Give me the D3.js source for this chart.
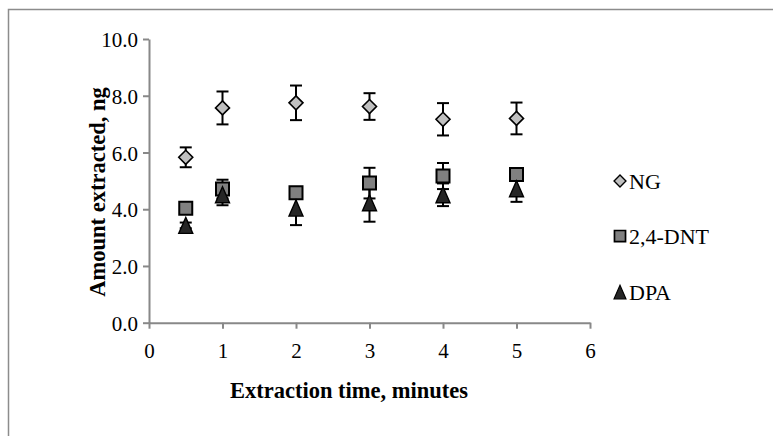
<!DOCTYPE html>
<html>
<head>
<meta charset="utf-8">
<script src="https://cdn.jsdelivr.net/npm/d3@7/dist/d3.min.js"></script>
<style>
  html, body { margin: 0; padding: 0; background: #fff; }
  svg { display: block; }
  text { font-family: "Liberation Serif", "Times New Roman", serif; fill: #000; }
</style>
</head>
<body>
<svg id="chart" width="773" height="436"></svg>
<script>
// Extraction time (minutes)
const times = [0.5, 1, 2, 3, 4, 5];

// Amount extracted (ng) with standard deviations
const ngValues  = [5.83, 7.57, 7.75, 7.62, 7.17, 7.20];
const ngErrors  = [0.35, 0.58, 0.61, 0.47, 0.57, 0.56];
const dntValues = [4.03, 4.71, 4.58, 4.92, 5.17, 5.22];
const dntErrors = [0.12, 0.33, 0.15, 0.54, 0.46, 0.15];
const dpaValues = [3.43, 4.51, 4.04, 4.23, 4.51, 4.72];
const dpaErrors = [0.10, 0.37, 0.60, 0.67, 0.40, 0.46];

const seriesNames = ["NG", "2,4-DNT", "DPA"];
const xTicks = [0, 1, 2, 3, 4, 5, 6];
const yTicks = [0, 2, 4, 6, 8, 10];

const series = [
  { name: seriesNames[0], values: ngValues,  errors: ngErrors,  shape: "diamond",  fill: "#c0c0c0" },
  { name: seriesNames[1], values: dntValues, errors: dntErrors, shape: "square",   fill: "#808080" },
  { name: seriesNames[2], values: dpaValues, errors: dpaErrors, shape: "triangle", fill: "#262626" }
];

const svg = d3.select("#chart");
const axisColor = "#888888";

// chart frame
svg.append("rect")
  .attr("x", 8.5).attr("y", 9.5)
  .attr("width", 800).attr("height", 500)
  .attr("fill", "none").attr("stroke", "#8c8c8c").attr("stroke-width", 1.5);

const x = d3.scaleLinear().domain([0, 6]).range([149, 590]);
const y = d3.scaleLinear().domain([0, 10]).range([322.7, 39]);

// marker outlines
const shapes = {
  diamond:  "M0,-7L7,0L0,7L-7,0Z",
  square:   "M-6.5,-6.5H6.5V6.5H-6.5Z",
  triangle: "M0,-8L7,8L-7,8Z"
};
const strokeW = { diamond: 1.6, square: 2, triangle: 1.4 };

// x axis
const xAxis = svg.append("g")
  .attr("transform", `translate(0,${y(0)})`)
  .call(d3.axisBottom(x).tickValues(xTicks).tickSize(6).tickSizeOuter(0).tickFormat(d3.format("d")));
xAxis.select(".domain").attr("stroke", axisColor).attr("stroke-width", 2);
xAxis.selectAll(".tick line").attr("stroke", axisColor).attr("stroke-width", 2);
xAxis.selectAll(".tick text")
  .attr("y", 35).attr("dy", 0)
  .style("font-family", "Liberation Serif").style("font-size", "21px").attr("fill", "#000");

// y axis
const yAxis = svg.append("g")
  .attr("transform", `translate(${x(0)},0)`)
  .call(d3.axisLeft(y).tickValues(yTicks).tickSize(6).tickSizeOuter(0).tickFormat(d3.format(".1f")));
yAxis.select(".domain").attr("stroke", axisColor).attr("stroke-width", 2);
yAxis.selectAll(".tick line").attr("stroke", axisColor).attr("stroke-width", 2);
yAxis.selectAll(".tick text")
  .attr("x", -11).attr("dy", "0.36em")
  .style("font-family", "Liberation Serif").style("font-size", "21px").attr("fill", "#000");

// axis titles
svg.append("text")
  .attr("x", 349).attr("y", 398)
  .attr("text-anchor", "middle")
  .style("font-size", "22.5px").style("font-weight", "bold")
  .text("Extraction time, minutes");

svg.append("text")
  .attr("transform", "translate(105,192) rotate(-90)")
  .attr("text-anchor", "middle")
  .style("font-size", "22.5px").style("font-weight", "bold")
  .text("Amount extracted, ng");

// error bars beneath all markers
const capHalf = 6;
const bars = svg.append("g").attr("stroke", "#000").attr("stroke-width", 2).attr("fill", "none");
series.forEach(s => {
  times.forEach((t, i) => {
    const cx = x(t);
    const hi = y(s.values[i] + s.errors[i]);
    const lo = y(s.values[i] - s.errors[i]);
    bars.append("line").attr("x1", cx).attr("x2", cx).attr("y1", hi).attr("y2", lo);
    bars.append("line").attr("x1", cx - capHalf).attr("x2", cx + capHalf).attr("y1", hi).attr("y2", hi);
    bars.append("line").attr("x1", cx - capHalf).attr("x2", cx + capHalf).attr("y1", lo).attr("y2", lo);
  });
});

// markers
series.forEach(s => {
  svg.append("g").selectAll("path")
    .data(times.map((t, i) => ({ t, v: s.values[i] })))
    .join("path")
    .attr("transform", d => `translate(${x(d.t)},${y(d.v)})`)
    .attr("d", shapes[s.shape])
    .attr("fill", s.fill)
    .attr("stroke", "#000")
    .attr("stroke-width", strokeW[s.shape])
    .attr("stroke-linejoin", "miter");
});

// legend
const legendY = [181, 236, 292];
const legend = svg.append("g");
series.forEach((s, i) => {
  const g = legend.append("g").attr("transform", `translate(620,${legendY[i]})`);
  g.append("path")
    .attr("d", shapes[s.shape])
    .attr("transform", "scale(0.85)")
    .attr("fill", s.fill)
    .attr("stroke", "#000")
    .attr("stroke-width", strokeW[s.shape]);
  g.append("text")
    .attr("x", 9).attr("y", 8)
    .style("font-size", "22px")
    .text(s.name);
});
</script>
</body>
</html>
